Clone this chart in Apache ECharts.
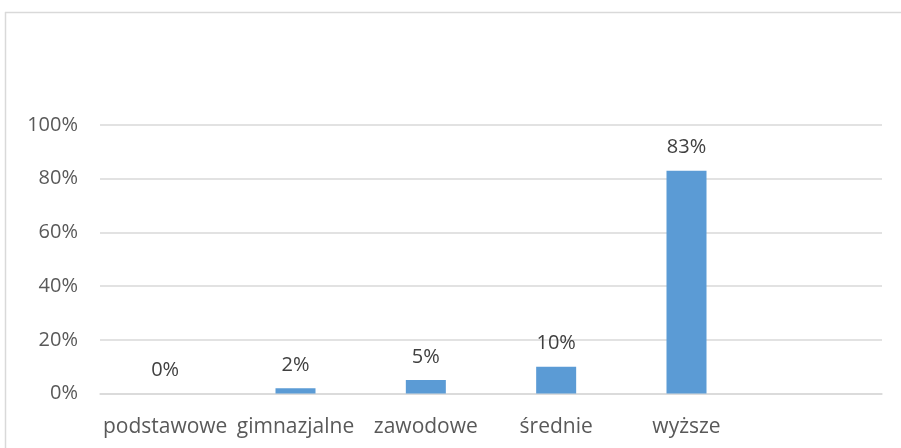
<!DOCTYPE html>
<html>
<head>
<meta charset="utf-8">
<script src="https://cdn.jsdelivr.net/npm/echarts@6/dist/echarts.min.js"></script>
<style>html,body{margin:0;padding:0;background:#fff;}#c{width:901px;height:448px;}</style>
</head>
<body>
<div id="c"></div>
<script>
const categories = ['podstawowe', 'gimnazjalne', 'zawodowe', 'średnie', 'wyższe', ''];
const values = [0, 2, 5, 10, 83, null];
const yTicks = [0, 20, 40, 60, 80, 100];

const chart = echarts.init(document.getElementById('c'));
const font = 'Open Sans, Noto Sans, sans-serif';
chart.setOption({
  animation: false,
  backgroundColor: '#ffffff',
  graphic: [
    { type: 'line', shape: { x1: 5.5, y1: 12, x2: 5.5, y2: 448 }, style: { stroke: '#d9d9d9', lineWidth: 1.5 } },
    { type: 'line', shape: { x1: 5, y1: 12.5, x2: 901, y2: 12.5 }, style: { stroke: '#d9d9d9', lineWidth: 1.5 } }
  ],
  grid: { left: 100, right: 19, top: 125, bottom: 54.5, containLabel: false },
  xAxis: {
    type: 'category',
    data: categories,
    axisLine: { show: true, lineStyle: { color: '#d9d9d9', width: 1.5 } },
    axisTick: { show: false },
    axisLabel: { color: '#595959', fontSize: 21, fontFamily: font, margin: 23, interval: 0 }
  },
  yAxis: {
    type: 'value',
    min: yTicks[0],
    max: yTicks[yTicks.length - 1],
    interval: 20,
    axisLine: { show: false },
    axisTick: { show: false },
    splitLine: { lineStyle: { color: '#d9d9d9', width: 1.5 } },
    axisLabel: { color: '#595959', fontSize: 20, fontFamily: font, margin: 22, formatter: v => v + '%' }
  },
  series: [{
    type: 'bar',
    data: values,
    barWidth: 40,
    itemStyle: { color: '#5b9bd5' },
    label: {
      show: true,
      position: 'top',
      distance: 13,
      color: '#404040',
      fontSize: 20,
      fontFamily: font,
      formatter: p => p.value == null ? '' : p.value + '%'
    }
  }]
});
</script>
</body>
</html>
